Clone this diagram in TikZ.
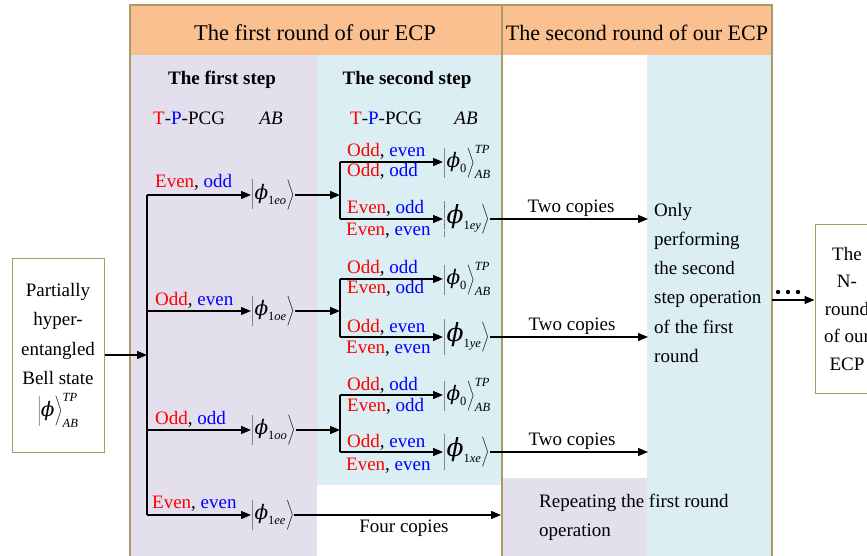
\RequirePackage{fix-cm}
\documentclass[tikz,border=0pt]{standalone}
\usepackage{fontspec}
\setmainfont{Liberation Serif}
\newfontfamily\phifont{DejaVu Serif}
\usetikzlibrary{arrows.meta}
\definecolor{hdrc}{RGB}{250,192,143}
\definecolor{lavc}{RGB}{228,223,236}
\definecolor{bluc}{RGB}{218,238,243}
\definecolor{frmc}{RGB}{168,155,105}
\newcommand{\rtxt}[1]{\textcolor{red}{#1}}
\newcommand{\btxt}[1]{\textcolor{blue}{#1}}
\newcommand{\kett}[2]{\left|\vcenter{\hbox{\rule{0pt}{#1}}}#2\right\rangle}
\newcommand{\phbig}[1]{\mbox{\fontsize{#1}{#1}\selectfont\phifont\itshape ϕ}}
\newcommand{\smallit}[1]{\mbox{\fontsize{12.5}{13}\selectfont #1}}
\begin{document}
\begin{tikzpicture}[x=1pt,y=-1pt,
  every node/.style={font=\fontsize{19}{23}\selectfont},
  arr/.style={-{Triangle[length=10pt,width=8pt]},line width=1.3pt},
  ln/.style={line width=1.3pt},
  ket/.style={inner sep=0pt,anchor=west},
  lbl/.style={inner sep=0pt,anchor=base west},
  boxed/.style={draw=frmc,line width=1pt,fill=white,align=center,inner sep=0pt}]
\useasboundingbox (0,0) rectangle (867,556);
\begin{scope}
\clip (0,0) rectangle (867,556);
% backgrounds
\fill[lavc] (130,55) rectangle (317,556);
\fill[bluc] (317,55) rectangle (502,485);
\fill[lavc] (502,478) rectangle (647,556);
\fill[bluc] (647,55) rectangle (772,556);
\fill[hdrc] (130,5) rectangle (772,55);
\draw[frmc,line width=1.2pt] (130,556) -- (130,5) -- (772,5) -- (772,556);
\draw[frmc,line width=1.2pt] (502,5) -- (502,556);
% headers
\node (h1) at (315,33) {\fontsize{22.5}{26}\selectfont The first round of our ECP};
\node (h2) at (637,33) {\fontsize{22}{26}\selectfont The second round of our ECP};
\node[anchor=base,inner sep=0pt] (st1) at (222,85) {\bfseries The first step};
\node[anchor=base,inner sep=0pt] (st2) at (407,85) {\bfseries The second step};
\node[lbl] (pc1) at (153,125) {\rtxt{T}-\btxt{P}-PCG};
\node[anchor=base,inner sep=0pt] (ab1) at (271,125) {\itshape AB};
\node[lbl] (pc2) at (350,125) {\rtxt{T}-\btxt{P}-PCG};
\node[anchor=base,inner sep=0pt] (ab2) at (466,125) {\itshape AB};
% source
\node[boxed,minimum width=92pt,minimum height=194pt,font=\fontsize{19}{29.5}\selectfont] (src) at (58,355)
  {Partially\\hyper-\\entangled\\Bell state\\[2pt]$\kett{30pt}{\phbig{20}}^{\smallit{\itshape TP}}_{\smallit{\itshape AB}}$};
\coordinate (j0) at (147,355);
\coordinate (jt) at (147,195);
\coordinate (jb) at (147,515);
\draw[ln] (jt) -- (jb);
\draw[arr] (src.east) -- (j0);
% first step kets
\node[ket] (a1) at (251,195) {$\kett{28pt}{\phbig{20}_{\smallit{1\itshape eo}}}$};
\node[ket] (a2) at (251,311) {$\kett{28pt}{\phbig{20}_{\smallit{1\itshape oe}}}$};
\node[ket] (a3) at (251,430) {$\kett{28pt}{\phbig{20}_{\smallit{1\itshape oo}}}$};
\node[ket] (a4) at (251,515) {$\kett{28pt}{\phbig{20}_{\smallit{1\itshape ee}}}$};
\draw[arr] (jt) -- (a1.west);
\draw[arr] (a2.west -| jt) -- (a2.west);
\draw[arr] (a3.west -| jt) -- (a3.west);
\draw[arr] (jb) -- (a4.west);
\node[lbl] at (155,188) {\rtxt{Even}, \btxt{odd}};
\node[lbl] at (155,305) {\rtxt{Odd}, \btxt{even}};
\node[lbl] at (155,424) {\rtxt{Odd}, \btxt{odd}};
\node[lbl] at (152,508) {\rtxt{Even}, \btxt{even}};
% second step, group 1
\coordinate (m1t) at (340,162);
\coordinate (m1b) at (340,219);
\draw[arr] (a1.east) -- (a1.east -| m1t);
\draw[ln] (m1t) -- (m1b);
\node[ket] (b1) at (443,162) {$\kett{28pt}{\phbig{20}_{\smallit{0}}}^{\smallit{\itshape TP}}_{\smallit{\itshape AB}}$};
\node[ket] (c1) at (443,219) {$\kett{36pt}{\phbig{25}_{\smallit{1\itshape ey}}}$};
\draw[arr] (m1t) -- (b1.west);
\draw[arr] (m1b) -- (c1.west);
\node[lbl] at (347,157) {\rtxt{Odd}, \btxt{even}};
\node[lbl] at (347,177) {\rtxt{Odd}, \btxt{odd}};
\node[lbl] at (347,214) {\rtxt{Even}, \btxt{odd}};
\node[lbl] at (346,236) {\rtxt{Even}, \btxt{even}};
% group 2
\coordinate (m2t) at (340,279);
\coordinate (m2b) at (340,337);
\draw[arr] (a2.east) -- (a2.east -| m2t);
\draw[ln] (m2t) -- (m2b);
\node[ket] (b2) at (443,279) {$\kett{28pt}{\phbig{20}_{\smallit{0}}}^{\smallit{\itshape TP}}_{\smallit{\itshape AB}}$};
\node[ket] (c2) at (443,337) {$\kett{36pt}{\phbig{25}_{\smallit{1\itshape ye}}}$};
\draw[arr] (m2t) -- (b2.west);
\draw[arr] (m2b) -- (c2.west);
\node[lbl] at (347,273) {\rtxt{Odd}, \btxt{odd}};
\node[lbl] at (347,293) {\rtxt{Even}, \btxt{odd}};
\node[lbl] at (347,332) {\rtxt{Odd}, \btxt{even}};
\node[lbl] at (346,353) {\rtxt{Even}, \btxt{even}};
% group 3
\coordinate (m3t) at (340,395);
\coordinate (m3b) at (340,452);
\draw[arr] (a3.east) -- (a3.east -| m3t);
\draw[ln] (m3t) -- (m3b);
\node[ket] (b3) at (443,395) {$\kett{28pt}{\phbig{20}_{\smallit{0}}}^{\smallit{\itshape TP}}_{\smallit{\itshape AB}}$};
\node[ket] (c3) at (443,452) {$\kett{36pt}{\phbig{25}_{\smallit{1\itshape xe}}}$};
\draw[arr] (m3t) -- (b3.west);
\draw[arr] (m3b) -- (c3.west);
\node[lbl] at (347,390) {\rtxt{Odd}, \btxt{odd}};
\node[lbl] at (347,411) {\rtxt{Even}, \btxt{odd}};
\node[lbl] at (347,447) {\rtxt{Odd}, \btxt{even}};
\node[lbl] at (346,470) {\rtxt{Even}, \btxt{even}};
% outputs
\coordinate (bl) at (648,0);
\coordinate (fc) at (501,0);
\draw[arr] (c1.east) -- (c1.east -| bl);
\draw[arr] (c2.east) -- (c2.east -| bl);
\draw[arr] (c3.east) -- (c3.east -| bl);
\draw[arr] (a4.east) -- (a4.east -| fc);
\node[anchor=base,inner sep=0pt] at (571,212) {Two copies};
\node[anchor=base,inner sep=0pt] at (572,330) {Two copies};
\node[anchor=base,inner sep=0pt] at (572,445) {Two copies};
\node[anchor=base,inner sep=0pt] at (404,532) {Four copies};
\node[lbl] (rep1) at (539,507) {Repeating the first round};
\node[lbl] (rep2) at (539,536) {operation};
\node[lbl] (on1) at (654,216) {Only};
\node[lbl] (on2) at (654,245) {performing};
\node[lbl] (on3) at (654,274) {the second};
\node[lbl] (on4) at (654,303) {step operation};
\node[lbl] (on5) at (654,333) {of the first};
\node[lbl] (on6) at (654,362) {round};
% N-round box
\node[boxed,minimum width=64pt,minimum height=169pt,font=\fontsize{19}{27.5}\selectfont] (nbox) at (847,308.5)
  {The\\N-\\round\\of our\\ECP};
\coordinate (d0) at (772,300);
\draw[arr] (d0) -- (d0 -| nbox.west);
\foreach \x in {778,788,798} \fill (\x,292) circle (2.2pt);
\end{scope}
\end{tikzpicture}
\end{document}
